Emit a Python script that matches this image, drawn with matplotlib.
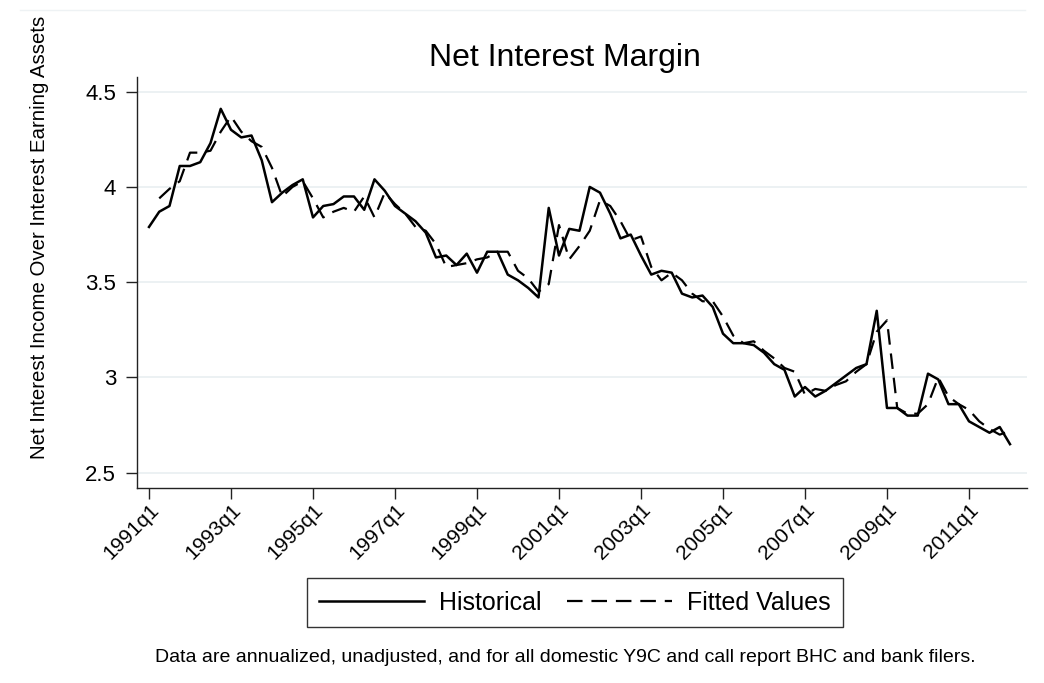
import numpy as np
import matplotlib
matplotlib.use("Agg")
import matplotlib.pyplot as plt
from matplotlib.lines import Line2D

plt.rcParams['font.family'] = ['Liberation Sans', 'DejaVu Sans']

# ---- data (quarterly, 1991q1 .. 2012q1) ----
historical = [
    3.79, 3.87, 3.90, 4.11, 4.11, 4.13, 4.23, 4.41, 4.30, 4.26,
    4.27, 4.14, 3.92, 3.97, 4.01, 4.04, 3.84, 3.90, 3.91, 3.95,
    3.95, 3.88, 4.04, 3.98, 3.90, 3.86, 3.82, 3.76, 3.63, 3.64,
    3.59, 3.65, 3.55, 3.66, 3.66, 3.54, 3.51, 3.47, 3.42, 3.89,
    3.64, 3.78, 3.77, 4.00, 3.97, 3.86, 3.73, 3.75, 3.64, 3.54,
    3.56, 3.55, 3.44, 3.42, 3.43, 3.37, 3.23, 3.18, 3.18, 3.17,
    3.13, 3.07, 3.04, 2.90, 2.95, 2.90, 2.93, 2.97, 3.01, 3.05,
    3.07, 3.35, 2.84, 2.84, 2.80, 2.80, 3.02, 2.99, 2.86, 2.86,
    2.77, 2.74, 2.71, 2.74, 2.65,
]
fitted = [
    np.nan, 3.94, 3.99, 4.03, 4.18, 4.18, 4.19, 4.29, 4.37, 4.29,
    4.24, 4.21, 4.10, 3.95, 4.00, 4.03, 3.94, 3.84, 3.87, 3.89,
    3.87, 3.95, 3.84, 3.97, 3.91, 3.86, 3.79, 3.77, 3.70, 3.58,
    3.59, 3.60, 3.62, 3.63, 3.66, 3.66, 3.56, 3.52, 3.45, 3.49,
    3.80, 3.62, 3.69, 3.77, 3.93, 3.90, 3.82, 3.72, 3.74, 3.58,
    3.51, 3.55, 3.51, 3.44, 3.40, 3.40, 3.32, 3.22, 3.18, 3.19,
    3.14, 3.10, 3.05, 3.03, 2.91, 2.94, 2.93, 2.96, 2.98, 3.03,
    3.07, 3.24, 3.30, 2.84, 2.81, 2.81, 2.86, 3.00, 2.90, 2.86,
    2.83, 2.77, 2.73, 2.70, 2.72,
]
tick_labels = ["1991q1", "1993q1", "1995q1", "1997q1", "1999q1", "2001q1",
               "2003q1", "2005q1", "2007q1", "2009q1", "2011q1"]
tick_quarters = [0, 8, 16, 24, 32, 40, 48, 56, 64, 72, 80]
y_ticks = [2.5, 3, 3.5, 4, 4.5]
y_tick_labels = ["2.5", "3", "3.5", "4", "4.5"]

title = "Net Interest Margin"
ylabel = "Net Interest Income Over Interest Earning Assets"
note = ("Data are annualized, unadjusted, and for all domestic Y9C and "
        "call report BHC and bank filers.")

# ---- figure ----
W, H = 1044, 683
fig = plt.figure(figsize=(W / 100, H / 100), dpi=100)
fig.patch.set_facecolor("white")

# faint outer frame line at top (graph region border)
fig.add_artist(Line2D([20 / W, 1025 / W], [1 - 10 / H, 1 - 10 / H],
                      transform=fig.transFigure, color="#eef2f4", lw=1))

ax = fig.add_axes([137 / W, 1 - 488 / H, (1027 - 137) / W, (488 - 77) / H])
x = np.arange(len(historical))

dash = (0, (7, 4))
ax.plot(x, historical, color="black", lw=1.8, label="Historical")
ax.plot(x, fitted, color="black", lw=1.6, linestyle=dash, label="Fitted Values")

ax.set_xlim(-1.17, 85.66)
ax.set_ylim(2.42, 4.577)

ax.set_yticks(y_ticks)
ax.set_yticklabels(y_tick_labels)
ax.set_xticks(tick_quarters)
ax.set_xticklabels(tick_labels, rotation=45, ha="right", va="top",
                   rotation_mode="anchor")

ax.grid(axis="y", color="#eaf0f2", lw=1.3)
ax.set_axisbelow(True)
for s in ["top", "right"]:
    ax.spines[s].set_visible(False)
for s in ["left", "bottom"]:
    ax.spines[s].set_color("#222222")
    ax.spines[s].set_linewidth(1.0)
ax.tick_params(axis="both", direction="out", length=8, width=1.0,
               color="#222222")
ax.tick_params(axis="y", labelsize=16, pad=7)
ax.tick_params(axis="x", labelsize=15, pad=1)

fig.text(565 / W, 1 - 58 / H, title, ha="center", va="center", fontsize=23)
fig.text(40 / W, 1 - 237 / H, ylabel, ha="center", va="center",
         rotation=90, fontsize=14.7)

leg_handles = [Line2D([], [], color="black", lw=1.8),
               Line2D([], [], color="black", lw=1.6, linestyle=dash)]
leg = fig.legend(leg_handles, ["Historical", "Fitted Values"],
                 loc="center", bbox_to_anchor=(575 / W, 1 - 602.5 / H),
                 ncol=2, frameon=True, fontsize=18, handlelength=4.2,
                 handletextpad=0.6, columnspacing=1.0, borderpad=0.5,
                 fancybox=False)
leg.get_frame().set_edgecolor("black")
leg.get_frame().set_linewidth(1.0)

fig.text(565 / W, 1 - 657 / H, note, ha="center", va="center", fontsize=14)

fig.savefig("out.png", dpi=100)
